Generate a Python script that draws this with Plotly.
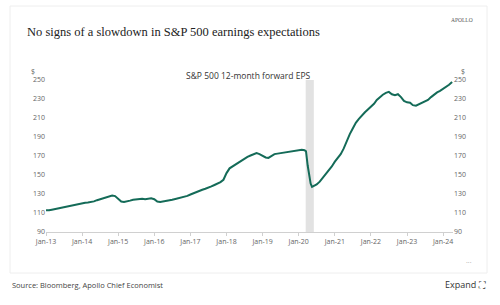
import pandas as pd
import plotly.graph_objects as go

# Monthly S&P 500 12-month forward EPS
eps_2013 = [113, 112.8, 113.5, 114.2, 115, 115.5, 116.2, 117, 117.8, 118.5, 119.2, 119.8]
eps_2014 = [120.3, 120.8, 121, 121.5, 122.2, 123.5, 124.5, 125.5, 126.5, 127.5, 128.3, 127.8]
eps_2015 = [125, 122, 121.5, 122, 123, 124, 124.5, 124.8, 125, 124.5, 125, 125.5]
eps_2016 = [124.5, 122, 121.5, 122, 122.8, 123.5, 124, 124.8, 125.5, 126, 127, 128]
eps_2017 = [129.5, 131, 132, 133, 134.5, 135.5, 136.5, 138, 139.5, 141, 142.5, 145]
eps_2018 = [152, 157, 159, 161, 163, 165, 167, 169, 170.5, 172, 173, 172]
eps_2019 = [170, 168.5, 168, 170.5, 172, 172.5, 173, 173.5, 173.8, 174, 174.5, 175]
eps_2020 = [175.5, 176.5, 176, 160, 141, 138.5, 140, 143, 147, 151, 154, 159]
eps_2021 = [164, 168, 172, 178, 186, 193, 199, 205, 209, 213, 216, 219]
eps_2022 = [222, 225, 229, 232, 234.5, 236.5, 237.5, 235, 234, 235, 232, 228]
eps_2023 = [226.5, 226, 223.5, 223, 224.5, 225.5, 227, 229, 232, 235, 237, 238.5]
eps_2024 = [240.5, 242.5, 245, 248]

# Extra mid-month readings around the 2020 collapse
covid_dates = ["2020-03-15", "2020-05-15"]
covid_values = [175, 137.5]

eps_values = (eps_2013 + eps_2014 + eps_2015 + eps_2016 + eps_2017 + eps_2018
              + eps_2019 + eps_2020 + eps_2021 + eps_2022 + eps_2023 + eps_2024)
dates = pd.date_range("2013-01-01", periods=len(eps_values), freq="MS")

series = pd.concat([
    pd.Series(eps_values, index=dates),
    pd.Series(covid_values, index=pd.to_datetime(covid_dates)),
]).sort_index()

recession_start = "2020-03-12"
recession_end = "2020-06-02"

y_ticks = [90, 110, 130, 150, 170, 190, 210, 230, 250]
line_color = "#146b58"
tick_font = dict(family="Open Sans, Liberation Sans, sans-serif", size=7, color="#666")

pl, pr, pt, pb = 46, 47, 80, 73
pw, ph = 500 - pl - pr, 305 - pt - pb

fig = go.Figure()
fig.add_trace(go.Scatter(x=series.index, y=series.values, mode="lines",
                         line=dict(color=line_color, width=2), showlegend=False))
fig.add_trace(go.Scatter(x=series.index, y=series.values, mode="lines", yaxis="y2",
                         line=dict(color="rgba(0,0,0,0)", width=0), showlegend=False,
                         hoverinfo="skip"))

fig.update_layout(
    width=500, height=305,
    margin=dict(l=pl, r=pr, t=pt, b=pb),
    paper_bgcolor="white", plot_bgcolor="white",
    xaxis=dict(
        type="date", range=["2013-01-01", "2024-04-10"],
        tick0="2013-01-01", dtick="M12", tickformat="%b-%y",
        showgrid=False, showline=True, linecolor="#d0d0d0", linewidth=1,
        ticks="outside", ticklen=3, tickcolor="#d0d0d0",
        tickfont=tick_font, zeroline=False,
    ),
    yaxis=dict(
        range=[90, 250], tickvals=y_ticks, showgrid=False, zeroline=False,
        showline=False, ticks="", tickfont=tick_font,
    ),
    yaxis2=dict(
        range=[90, 250], tickvals=y_ticks, overlaying="y", side="right",
        showgrid=False, zeroline=False, showline=False, ticks="", tickfont=tick_font,
    ),
    shapes=[
        dict(type="rect", xref="x", yref="paper",
             x0=recession_start, x1=recession_end, y0=0, y1=1,
             fillcolor="#e2e2e2", line=dict(width=0), layer="below"),
        dict(type="rect", xref="paper", yref="paper",
             x0=(10 - pl) / pw, x1=(487 - pl) / pw,
             y0=(305 - pb - 273) / ph, y1=(305 - pb - 6) / ph,
             line=dict(color="#eeeeee", width=1), fillcolor="rgba(0,0,0,0)", layer="below"),
    ],
)

annos = [
    dict(text="No signs of a slowdown in S&P 500 earnings expectations",
         x=25, y=32, font=dict(family="Liberation Serif, serif", size=12.5, color="#222"),
         xanchor="left"),
    dict(text="APOLLO", x=462, y=20,
         font=dict(family="Liberation Serif, serif", size=5.5, color="#555"), xanchor="center"),
    dict(text="S&P 500 12-month forward EPS", x=248, y=75,
         font=dict(family="Open Sans, sans-serif", size=8.5, color="#333"), xanchor="center"),
    dict(text="$", x=33, y=71, font=tick_font, xanchor="center"),
    dict(text="$", x=463, y=71, font=tick_font, xanchor="center"),
    dict(text="···", x=469, y=262, font=dict(family="Open Sans, sans-serif", size=7, color="#999"),
         xanchor="center"),
    dict(text="Source: Bloomberg, Apollo Chief Economist", x=10, y=285,
         font=dict(family="Open Sans, sans-serif", size=7.5, color="#444"), xanchor="left"),
    dict(text="Expand ⛶", x=488, y=284,
         font=dict(family="Open Sans, sans-serif", size=9, color="#333"), xanchor="right"),
]
for a in annos:
    fig.add_annotation(text=a["text"], x=(a["x"] - pl) / pw, y=(305 - pb - a["y"]) / ph,
                       xref="paper", yref="paper", showarrow=False,
                       xanchor=a["xanchor"], yanchor="middle", font=a["font"])

fig.write_html("out.html")
